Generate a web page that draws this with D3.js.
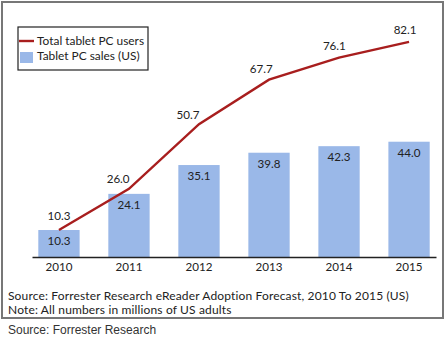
<!DOCTYPE html>
<html>
<head>
<meta charset="utf-8">
<script src="https://cdn.jsdelivr.net/npm/d3@7"></script>
<style>
  body { margin: 0; background: #fff; }
  svg text { font-family: Lato, "Noto Sans", sans-serif; fill: #222; }
</style>
</head>
<body>
<svg id="chart" width="447" height="342"></svg>
<script>
const years = ['2010', '2011', '2012', '2013', '2014', '2015'];
const sales = [10.3, 24.1, 35.1, 39.8, 42.3, 44.0];
const users = [10.3, 26.0, 50.7, 67.7, 76.1, 82.1];
const seriesNames = ['Total tablet PC users', 'Tablet PC sales (US)'];
const noteLines = [
    'Source: Forrester Research eReader Adoption Forecast, 2010 To 2015 (US)',
    'Note: All numbers in millions of US adults'
];
const outsideSource = 'Source: Forrester Research';

const lineColor = '#a81e1e';
const barColor = '#9ab8e8';
const labelSize = 11.6;
const baseY = 257;

const svg = d3.select('#chart');

// frame around the chart
svg.append('rect')
    .attr('x', 2).attr('y', 2)
    .attr('width', 441).attr('height', 316)
    .attr('fill', 'none')
    .attr('stroke', '#777')
    .attr('stroke-width', 2);

const x = d3.scaleBand()
    .domain(years)
    .range([32, 436])
    .paddingInner(0.41)
    .paddingOuter(0.09);

const y = d3.scaleLinear()
    .domain([0, 90])
    .range([baseY, baseY - 90 * 2.62]);

const cx = d => x(d) + x.bandwidth() / 2;

// bars
svg.append('g')
    .selectAll('rect')
    .data(years)
    .join('rect')
    .attr('x', d => x(d))
    .attr('y', (d, i) => y(sales[i]))
    .attr('width', x.bandwidth())
    .attr('height', (d, i) => y(0) - y(sales[i]))
    .attr('fill', barColor);

svg.append('g')
    .selectAll('text')
    .data(years)
    .join('text')
    .attr('x', cx)
    .attr('y', (d, i) => y(sales[i]) + 15)
    .attr('text-anchor', 'middle')
    .attr('font-size', labelSize)
    .text((d, i) => sales[i].toFixed(1));

// axis
const axis = svg.append('g')
    .attr('transform', `translate(0,${baseY})`)
    .call(d3.axisBottom(x).tickSize(0).tickPadding(6));
axis.select('.domain').attr('stroke', '#222').attr('stroke-width', 1.4);
axis.selectAll('text')
    .attr('font-size', labelSize)
    .attr('font-family', 'Lato, "Noto Sans", sans-serif')
    .attr('fill', '#222');

// line
const pts = years.map((d, i) => [cx(d), y(users[i])]);
svg.append('path')
    .datum(pts)
    .attr('d', d3.line())
    .attr('fill', 'none')
    .attr('stroke', lineColor)
    .attr('stroke-width', 2.4);

// line labels sit on the upper-left side of the line
function labelOffset(i) {
    if (i === 0) return [0, -10];
    const a = pts[i - 1];
    const b = pts[Math.min(i + 1, pts.length - 1)];
    const tx = b[0] - a[0];
    const ty = b[1] - a[1];
    const len = Math.hypot(tx, ty);
    const nx = ty / len;
    const ny = -tx / len;
    return [nx * 18, ny * 12 + 4];
}

svg.append('g')
    .selectAll('text')
    .data(years)
    .join('text')
    .attr('x', (d, i) => pts[i][0] + labelOffset(i)[0])
    .attr('y', (d, i) => pts[i][1] + labelOffset(i)[1])
    .attr('text-anchor', 'middle')
    .attr('font-size', labelSize)
    .text((d, i) => users[i].toFixed(1));

// legend
const legend = svg.append('g');
legend.append('rect')
    .attr('x', 18).attr('y', 27)
    .attr('width', 130).attr('height', 43)
    .attr('fill', '#fff')
    .attr('stroke', '#222')
    .attr('stroke-width', 1.2);
legend.append('line')
    .attr('x1', 19).attr('x2', 34)
    .attr('y1', 41).attr('y2', 41)
    .attr('stroke', lineColor)
    .attr('stroke-width', 2.4);
legend.append('rect')
    .attr('x', 20).attr('y', 52)
    .attr('width', 13).attr('height', 11)
    .attr('fill', barColor);
legend.selectAll('text.item')
    .data(seriesNames)
    .join('text')
    .attr('class', 'item')
    .attr('x', 37)
    .attr('y', (d, i) => 45 + i * 15)
    .attr('font-size', 11.9)
    .text(d => d);

// notes inside the frame
svg.selectAll('text.note')
    .data(noteLines)
    .join('text')
    .attr('class', 'note')
    .attr('x', 8)
    .attr('y', (d, i) => 300 + i * 13.5)
    .attr('font-size', 12)
    .attr('letter-spacing', 0.15)
    .text(d => d);

svg.append('text')
    .attr('x', 8)
    .attr('y', 334)
    .attr('font-size', 12)
    .style('font-family', '"Liberation Sans", Arial, sans-serif')
    .style('fill', '#333')
    .text(outsideSource);
</script>
</body>
</html>
